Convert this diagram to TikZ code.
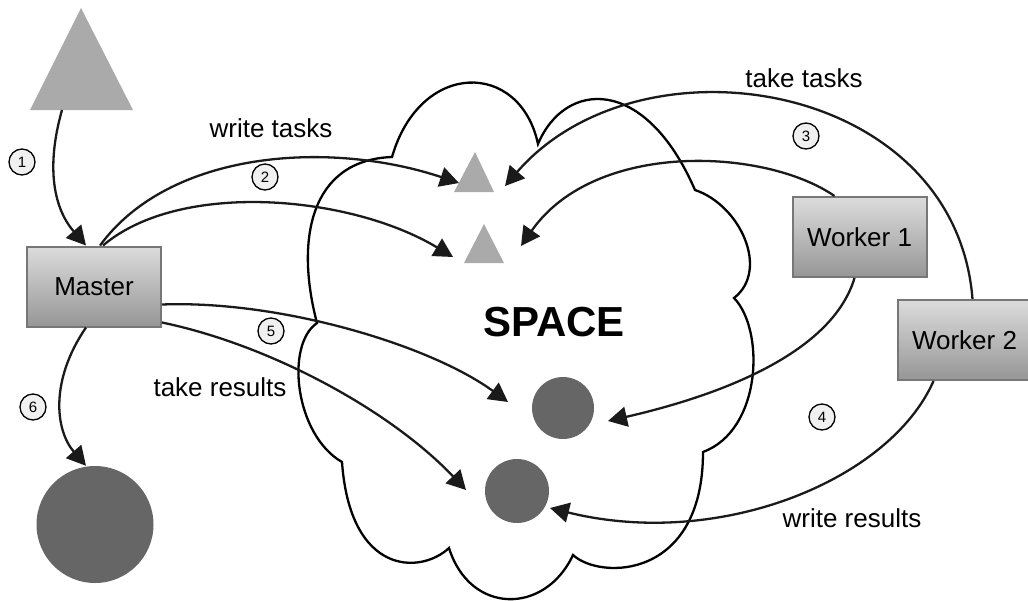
\documentclass[tikz,border=0pt]{standalone}
\usepackage{fontspec}
\setmainfont{Liberation Sans}
\usetikzlibrary{arrows.meta,calc}
\definecolor{trigray}{HTML}{AAAAAA}
\definecolor{dotgray}{HTML}{666666}
\definecolor{boxtop}{HTML}{DCDCDC}
\definecolor{boxbot}{HTML}{969696}
\definecolor{boxline}{HTML}{777777}
\definecolor{linecol}{HTML}{1A1A1A}
\definecolor{badgefill}{HTML}{F0F0F0}
\begin{document}
\begin{tikzpicture}[x=1pt,y=-1pt,
  box/.style={draw=boxline, line width=2pt, top color=boxtop, bottom color=boxbot,
    minimum width=134pt, minimum height=80pt, inner sep=0pt, font=\fontsize{26}{30}\selectfont},
  conn/.style={draw=linecol, line width=2.3pt, -{Triangle[length=19pt,width=20pt]}},
  badge/.style={circle, draw=black, fill=badgefill, line width=1.3pt, minimum size=26pt,
    inner sep=0pt, font=\fontsize{15}{17}\selectfont},
  lbl/.style={font=\fontsize{26}{30}\selectfont, inner sep=0pt},
  dot/.style={circle, fill=dotgray, inner sep=0pt},
  cloudline/.style={draw=black, line width=2.3pt, line join=miter}
]
\useasboundingbox (0,0) rectangle (1028,600);

% cloud (SPACE)
\path[cloudline] (392,157)
  .. controls (420,60) and (520,60) .. (538,144)
  .. controls (565,80) and (645,75) .. (695,190)
  .. controls (740,205) and (770,270) .. (734,298)
  .. controls (765,330) and (762,430) .. (703,452)
  .. controls (703,580) and (600,580) .. (573,555)
  .. controls (545,615) and (470,615) .. (449,548)
  .. controls (420,575) and (350,575) .. (342,462)
  .. controls (295,435) and (285,345) .. (317,323)
  .. controls (295,240) and (310,160) .. (392,157) -- cycle;

% triangles
\fill[trigray] (30,110) -- (81,8) -- (133,110) -- cycle;
\fill[trigray] (454,192) -- (475,152) -- (494,192) -- cycle;
\fill[trigray] (464,263) -- (484,224) -- (504,263) -- cycle;
\coordinate (bigtri) at (62,110);
\coordinate (triAw) at (459,183);
\coordinate (triAe) at (505,186);
\coordinate (triBw) at (453,257);
\coordinate (triBe) at (521,246);

% circles
\node[dot, minimum size=62pt] (dotA) at (563,408) {};
\node[dot, minimum size=64pt] (dotB) at (517,491) {};
\node[dot, minimum size=117pt] (bigdot) at (95,524.5) {};
\coordinate (dotAw) at (508,402);
\coordinate (dotAe) at (608,421);
\coordinate (dotBw) at (466,490);
\coordinate (dotBe) at (550,508);

% boxes
\node[box] (master) at (94,286.5) {Master};
\node[box] (w1) at (859.5,237) {Worker 1};
\node[box] (w2) at (964.5,340) {Worker 2};

% connectors
\draw[conn] (bigtri) .. controls (45,170) and (55,210) .. ([xshift=-8pt]master.north);
\draw[conn] ([xshift=6pt]master.north) .. controls (170,150) and (330,140) .. (triAw);
\draw[conn] ([xshift=9pt]master.north) .. controls (180,180) and (350,195) .. (triBw);
\draw[conn] ([xshift=8pt]w2.north) .. controls (955,80) and (640,30) .. (triAe);
\draw[conn] ([xshift=-25pt]w1.north) .. controls (765,148) and (595,140) .. (triBe);
\draw[conn] ([xshift=-5pt]w1.south) .. controls (830,360) and (700,400) .. (dotAe);
\draw[conn] ([xshift=-31pt]w2.south) .. controls (890,480) and (720,550) .. (dotBe);
\draw[conn] ([yshift=-18pt]master.east) .. controls (280,300) and (430,345) .. (dotAw);
\draw[conn] ([yshift=-36pt]master.east) .. controls (270,345) and (390,410) .. (dotBw);
\draw[conn] ([xshift=-8pt]master.south) .. controls (50,380) and (55,430) .. ([xshift=-9pt]bigdot.north);

% labels
\node[lbl] (lwt) at (271,128) {write tasks};
\node[lbl] (ltt) at (804,78) {take tasks};
\node[lbl] (ltr) at (220,387) {take results};
\node[lbl] (lwr) at (852,518) {write results};
\node[font=\fontsize{42}{48}\selectfont\bfseries, inner sep=0pt] (space) at (554,322) {SPACE};

% step badges
\node[badge] (b1) at (22,162) {1};
\node[badge] (b2) at (265,177) {2};
\node[badge] (b3) at (806,136) {3};
\node[badge] (b4) at (822,417) {4};
\node[badge] (b5) at (271,331) {5};
\node[badge] (b6) at (33,407) {6};
\end{tikzpicture}
\end{document}
